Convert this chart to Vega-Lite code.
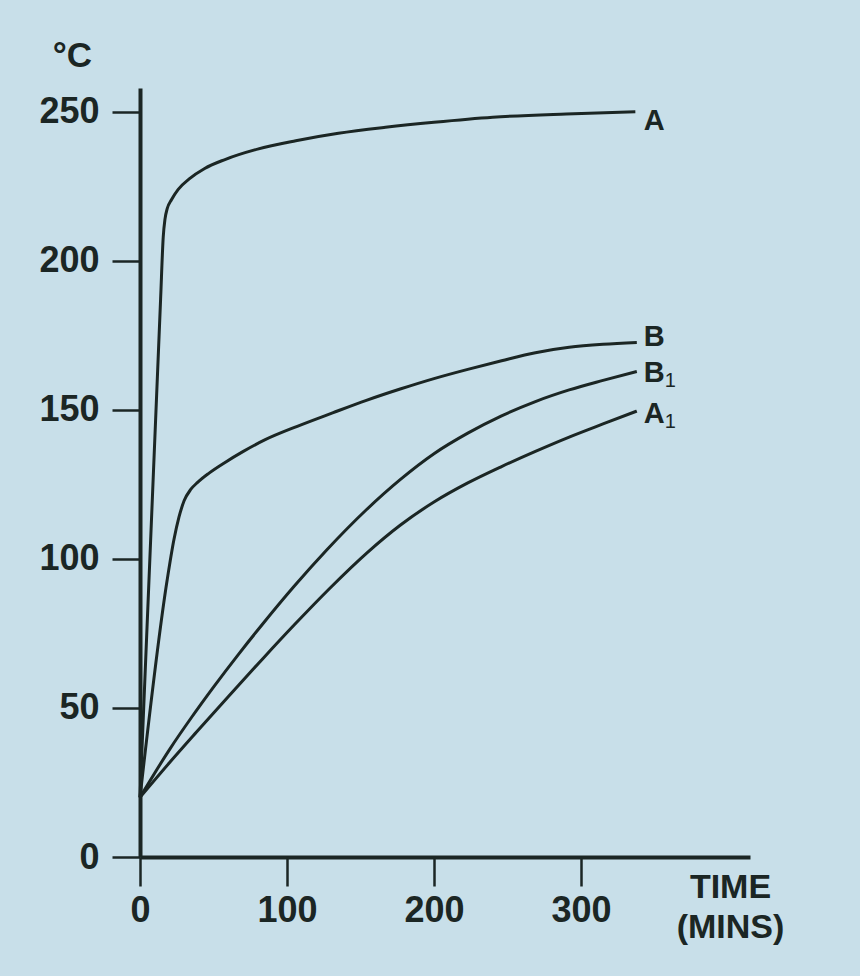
{
  "$schema": "https://vega.github.io/schema/vega-lite/v6.json",
  "autosize": {"type": "none"},
  "padding": {"left": 140, "top": 88, "right": 110, "bottom": 119},
  "width": 610,
  "height": 769,
  "background": "#c8dfe9",
  "config": {
    "view": {"stroke": null},
    "font": "Liberation Sans",
    "axis": {
      "domainColor": "#1b2624",
      "tickColor": "#1b2624",
      "labelColor": "#1b2624",
      "titleColor": "#1b2624",
      "labelFont": "Liberation Sans",
      "titleFont": "Liberation Sans",
      "labelFontWeight": "bold",
      "titleFontWeight": "bold",
      "grid": false
    }
  },
  "datasets": {
    "curves": [
      {"series": "A", "t": 0, "v": 20},
      {"series": "A", "t": 14, "v": 187},
      {"series": "A", "t": 15.8, "v": 208},
      {"series": "A", "t": 17, "v": 214},
      {"series": "A", "t": 18.5, "v": 217.5},
      {"series": "A", "t": 21.4, "v": 220.5},
      {"series": "A", "t": 26, "v": 224},
      {"series": "A", "t": 33.5, "v": 227.5},
      {"series": "A", "t": 44, "v": 231},
      {"series": "A", "t": 57.8, "v": 234},
      {"series": "A", "t": 80, "v": 237.5},
      {"series": "A", "t": 106, "v": 240.3},
      {"series": "A", "t": 135, "v": 242.8},
      {"series": "A", "t": 167, "v": 244.8},
      {"series": "A", "t": 200, "v": 246.5},
      {"series": "A", "t": 240, "v": 248.2},
      {"series": "A", "t": 290, "v": 249.3},
      {"series": "A", "t": 337, "v": 250},
      {"series": "B", "t": 0, "v": 20},
      {"series": "B", "t": 18.5, "v": 93},
      {"series": "B", "t": 23.1, "v": 106.5},
      {"series": "B", "t": 26.5, "v": 114},
      {"series": "B", "t": 30, "v": 119.5},
      {"series": "B", "t": 34.5, "v": 123.3},
      {"series": "B", "t": 39.2, "v": 125.7},
      {"series": "B", "t": 47, "v": 128.8},
      {"series": "B", "t": 57.6, "v": 132.3},
      {"series": "B", "t": 70, "v": 136},
      {"series": "B", "t": 85.2, "v": 140},
      {"series": "B", "t": 107, "v": 144.5},
      {"series": "B", "t": 131, "v": 149},
      {"series": "B", "t": 154, "v": 153.2},
      {"series": "B", "t": 177, "v": 157},
      {"series": "B", "t": 200, "v": 160.5},
      {"series": "B", "t": 223, "v": 163.6},
      {"series": "B", "t": 246, "v": 166.5},
      {"series": "B", "t": 269, "v": 169.2},
      {"series": "B", "t": 292, "v": 171},
      {"series": "B", "t": 315, "v": 172},
      {"series": "B", "t": 338, "v": 172.6},
      {"series": "B1", "t": 0, "v": 20},
      {"series": "B1", "t": 20.4, "v": 36.3},
      {"series": "B1", "t": 35, "v": 46.8},
      {"series": "B1", "t": 50, "v": 57},
      {"series": "B1", "t": 67, "v": 68},
      {"series": "B1", "t": 84, "v": 78.5},
      {"series": "B1", "t": 105, "v": 90.9},
      {"series": "B1", "t": 127, "v": 103},
      {"series": "B1", "t": 154, "v": 116.5},
      {"series": "B1", "t": 177, "v": 126.6},
      {"series": "B1", "t": 200, "v": 135.3},
      {"series": "B1", "t": 223, "v": 142.2},
      {"series": "B1", "t": 246, "v": 148},
      {"series": "B1", "t": 269, "v": 152.8},
      {"series": "B1", "t": 292, "v": 156.7},
      {"series": "B1", "t": 315, "v": 159.9},
      {"series": "B1", "t": 338, "v": 162.9},
      {"series": "A1", "t": 0, "v": 20},
      {"series": "A1", "t": 20, "v": 31.6},
      {"series": "A1", "t": 38.6, "v": 42},
      {"series": "A1", "t": 60, "v": 53.8},
      {"series": "A1", "t": 84, "v": 66.8},
      {"series": "A1", "t": 105, "v": 77.9},
      {"series": "A1", "t": 129, "v": 90.1},
      {"series": "A1", "t": 155, "v": 102.3},
      {"series": "A1", "t": 177, "v": 111.3},
      {"series": "A1", "t": 200, "v": 119.1},
      {"series": "A1", "t": 223, "v": 125.5},
      {"series": "A1", "t": 246, "v": 131},
      {"series": "A1", "t": 269, "v": 136.1},
      {"series": "A1", "t": 292, "v": 140.9},
      {"series": "A1", "t": 315, "v": 145.3},
      {"series": "A1", "t": 338, "v": 149.6}
    ],
    "labels": [
      {"letter": "A", "sub": "", "t": 338, "v": 247},
      {"letter": "B", "sub": "", "t": 338, "v": 174.3},
      {"letter": "B", "sub": "1", "t": 338, "v": 162.3},
      {"letter": "A", "sub": "1", "t": 338, "v": 148.5}
    ]
  },
  "layer": [
    {
      "data": {"name": "curves"},
      "mark": {"type": "line", "interpolate": "monotone", "strokeWidth": 3, "color": "#1b2624"},
      "encoding": {
        "x": {
          "field": "t", "type": "quantitative",
          "scale": {"domain": [0, 415], "nice": false, "zero": false},
          "axis": {
            "values": [0, 100, 200, 300],
            "domainWidth": 4,
            "tickWidth": 2.5,
            "tickSize": 29,
            "labelFontSize": 36,
            "labelPadding": 7,
            "labelFlush": false,
            "title": ["TIME", "(MINS)"],
            "titleFontSize": 34,
            "titleLineHeight": 40,
            "titleAnchor": "start",
            "titleAlign": "center",
            "titleBaseline": "top",
            "titleX": 590,
            "titleY": 13
          }
        },
        "y": {
          "field": "v", "type": "quantitative",
          "scale": {"domain": [0, 258], "nice": false},
          "axis": {
            "values": [0, 50, 100, 150, 200, 250],
            "domainWidth": 4,
            "tickWidth": 2.5,
            "tickSize": 28,
            "labelFontSize": 36,
            "labelPadding": 13,
            "labelFlush": false,
            "title": "°C",
            "titleFontSize": 35,
            "titleAngle": 0,
            "titleAlign": "center",
            "titleBaseline": "middle",
            "titleX": -68,
            "titleY": -33
          }
        },
        "detail": {"field": "series", "type": "nominal"}
      }
    },
    {
      "data": {"name": "labels"},
      "mark": {"type": "text", "align": "left", "baseline": "middle", "dx": 7, "fontSize": 29, "fontWeight": "bold", "font": "Liberation Sans", "color": "#1b2624"},
      "encoding": {
        "x": {"field": "t", "type": "quantitative"},
        "y": {"field": "v", "type": "quantitative"},
        "text": {"field": "letter"}
      }
    },
    {
      "data": {"name": "labels"},
      "transform": [{"filter": "datum.sub != ''"}],
      "mark": {"type": "text", "align": "left", "baseline": "middle", "dx": 28, "dy": 8, "fontSize": 20, "font": "Liberation Sans", "color": "#1b2624"},
      "encoding": {
        "x": {"field": "t", "type": "quantitative"},
        "y": {"field": "v", "type": "quantitative"},
        "text": {"field": "sub"}
      }
    }
  ]
}
